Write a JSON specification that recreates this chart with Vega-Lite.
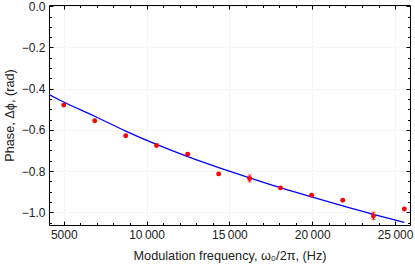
{
  "$schema": "https://vega.github.io/schema/vega-lite/v6.json",
  "width": 361,
  "height": 220,
  "autosize": {"type": "none"},
  "padding": {"left": 49, "top": 5, "right": 5, "bottom": 40},
  "config": {
    "view": {"stroke": "#000000", "strokeWidth": 1},
    "axis": {
      "labelFont": "Liberation Sans",
      "titleFont": "Liberation Sans",
      "labelFontSize": 12,
      "titleFontSize": 12.7,
      "titleFontWeight": "normal",
      "labelColor": "#222222",
      "titleColor": "#222222",
      "tickColor": "#000000",
      "domain": false,
      "grid": false
    }
  },
  "datasets": {
    "pts": [
      {"f": 5000, "phase": -0.480},
      {"f": 6870, "phase": -0.556},
      {"f": 8740, "phase": -0.629},
      {"f": 10600, "phase": -0.676},
      {"f": 12480, "phase": -0.718},
      {"f": 14350, "phase": -0.814},
      {"f": 16220, "phase": -0.836},
      {"f": 18080, "phase": -0.882},
      {"f": 19960, "phase": -0.917},
      {"f": 21840, "phase": -0.942},
      {"f": 23690, "phase": -1.018},
      {"f": 25560, "phase": -0.984}
    ],
    "err": [
      {"f": 16220, "lo": -0.853, "hi": -0.819},
      {"f": 23690, "lo": -1.036, "hi": -1.000}
    ],
    "caps": [
      {"f": 16220, "y": -0.853},
      {"f": 16220, "y": -0.819},
      {"f": 23690, "y": -1.036},
      {"f": 23690, "y": -1.000}
    ],
    "curve": [
      {"f": 4110, "phase": -0.428},
      {"f": 5000, "phase": -0.465},
      {"f": 6870, "phase": -0.534},
      {"f": 8740, "phase": -0.606},
      {"f": 10600, "phase": -0.671},
      {"f": 12480, "phase": -0.730},
      {"f": 14350, "phase": -0.783},
      {"f": 16220, "phase": -0.833},
      {"f": 18080, "phase": -0.881},
      {"f": 19960, "phase": -0.926},
      {"f": 21840, "phase": -0.969},
      {"f": 23690, "phase": -1.010},
      {"f": 25560, "phase": -1.049}
    ]
  },
  "resolve": {"axis": {"x": "independent", "y": "independent"}},
  "layer": [
    {
      "data": {"name": "curve"},
      "mark": {"type": "line", "color": "#0000FF", "strokeWidth": 1.3, "interpolate": "monotone", "clip": true},
      "encoding": {
        "x": {"field": "f", "type": "quantitative",
          "scale": {"domain": [4110, 25900], "nice": false, "zero": false},
          "axis": {"orient": "bottom", "values": [5000,6000,7000,8000,9000,10000,11000,12000,13000,14000,15000,16000,17000,18000,19000,20000,21000,22000,23000,24000,25000], "labels": false, "tickSize": -2.5, "title": null}},
        "y": {"field": "phase", "type": "quantitative",
          "scale": {"domain": [-1.062, 0.006], "nice": false, "zero": false},
          "axis": {"orient": "left", "values": [0,-0.05,-0.1,-0.15,-0.2,-0.25,-0.3,-0.35,-0.4,-0.45,-0.5,-0.55,-0.6,-0.65,-0.7,-0.75,-0.8,-0.85,-0.9,-0.95,-1.0,-1.05], "labels": false, "tickSize": -2.5, "title": null}}
      }
    },
    {
      "data": {"name": "err"},
      "mark": {"type": "rule", "color": "#FF0000", "strokeWidth": 1},
      "encoding": {
        "x": {"field": "f", "type": "quantitative",
          "scale": {"domain": [4110, 25900], "nice": false, "zero": false},
          "axis": {"orient": "top", "values": [5000,10000,15000,20000,25000], "labels": false, "tickSize": -4, "title": null}},
        "y": {"field": "lo", "type": "quantitative",
          "scale": {"domain": [-1.062, 0.006], "nice": false, "zero": false},
          "axis": {"orient": "right", "values": [0,-0.2,-0.4,-0.6,-0.8,-1.0], "labels": false, "tickSize": -4, "title": null}},
        "y2": {"field": "hi"}
      }
    },
    {
      "data": {"name": "caps"},
      "mark": {"type": "tick", "orient": "horizontal", "color": "#FF0000", "thickness": 1, "size": 4},
      "encoding": {
        "x": {"field": "f", "type": "quantitative",
          "scale": {"domain": [4110, 25900], "nice": false, "zero": false},
          "axis": {"orient": "top", "values": [5000,6000,7000,8000,9000,10000,11000,12000,13000,14000,15000,16000,17000,18000,19000,20000,21000,22000,23000,24000,25000], "labels": false, "tickSize": -2.5, "title": null}},
        "y": {"field": "y", "type": "quantitative",
          "scale": {"domain": [-1.062, 0.006], "nice": false, "zero": false},
          "axis": {"orient": "right", "values": [0,-0.05,-0.1,-0.15,-0.2,-0.25,-0.3,-0.35,-0.4,-0.45,-0.5,-0.55,-0.6,-0.65,-0.7,-0.75,-0.8,-0.85,-0.9,-0.95,-1.0,-1.05], "labels": false, "tickSize": -2.5, "title": null}}
      }
    },
    {
      "data": {"name": "pts"},
      "mark": {"type": "circle", "color": "#FF0000", "opacity": 1, "size": 24},
      "encoding": {
        "x": {"field": "f", "type": "quantitative",
          "scale": {"domain": [4110, 25900], "nice": false, "zero": false},
          "axis": {"orient": "bottom", "values": [5000,10000,15000,20000,25000], "tickSize": -4, "labelPadding": 8,
            "labelExpr": "datum.value >= 10000 ? replace(format(datum.value, ','), ',', '\u2009') : format(datum.value, 'd')",
            "grid": true, "gridColor": "#ececec", "gridDash": [2, 2], "gridWidth": 1,
            "title": "Modulation frequency, ω₀/2π, (Hz)", "titlePadding": 9}},
        "y": {"field": "phase", "type": "quantitative",
          "scale": {"domain": [-1.062, 0.006], "nice": false, "zero": false},
          "axis": {"orient": "left", "values": [0,-0.2,-0.4,-0.6,-0.8,-1.0], "tickSize": -4, "labelPadding": 8, "format": ".1f",
            "grid": true, "gridColor": "#ececec", "gridDash": [2, 2], "gridWidth": 1,
            "title": "Phase, Δϕ, (rad)", "titlePadding": 5}}
      }
    }
  ]
}
